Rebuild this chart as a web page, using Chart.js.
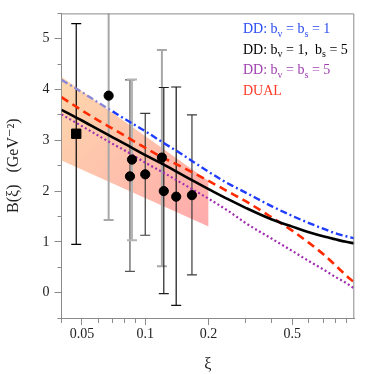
<!DOCTYPE html>
<html>
<head>
<meta charset="utf-8">
<script src="https://cdn.jsdelivr.net/npm/chart.js@4.4.1/dist/chart.umd.min.js"></script>
<style>
  html, body { margin: 0; padding: 0; background: #fff; }
  #wrap { width: 374px; height: 374px; }
</style>
</head>
<body>
<div id="wrap"><canvas id="chart"></canvas></div>
<script>
// model curves, sampled on a common xi grid
const xiGrid   = [0.04, 0.05, 0.06, 0.07, 0.08, 0.1, 0.12, 0.15, 0.2, 0.25, 0.3, 0.4, 0.5, 0.6, 0.7, 0.8, 0.9, 0.985];
const ddSame1  = [4.19, 3.95, 3.74, 3.57, 3.42, 3.18, 2.97, 2.72, 2.38, 2.14, 1.97, 1.70, 1.51, 1.37, 1.26, 1.17, 1.11, 1.07];
const ddMixed  = [3.60, 3.39, 3.21, 3.06, 2.93, 2.71, 2.54, 2.32, 2.04, 1.83, 1.67, 1.44, 1.30, 1.19, 1.11, 1.05, 1.00, 0.97];
const ddSame5  = [3.51, 3.28, 3.09, 2.93, 2.80, 2.56, 2.38, 2.15, 1.85, 1.60, 1.37, 1.06, 0.82, 0.62, 0.46, 0.31, 0.19, 0.08];
const dual     = [3.85, 3.59, 3.39, 3.23, 3.09, 2.85, 2.67, 2.47, 2.20, 1.98, 1.80, 1.48, 1.22, 0.98, 0.76, 0.54, 0.34, 0.20];

// shaded band
const bandXi     = [0.04, 0.2];
const bandTop    = [4.25, 2.2];
const bandBottom = [2.6, 1.3];

// data points with error bars
const squareXi = [0.047];
const squareB  = [3.13];
const squareLo = [0.95];
const squareHi = [5.30];

const circleXi = [0.067, 0.0846, 0.0865, 0.1, 0.12, 0.1225, 0.1403, 0.1667];
const circleB  = [3.88, 2.29, 2.62, 2.33, 2.66, 2.00, 1.89, 1.92];
const circleLo = [1.43, 0.42, 1.03, 1.13, 0.52, -0.02, -0.25, 0.35];
const circleHi = [6.33, 4.19, 4.20, 3.53, 4.78, 4.04, 4.05, 3.50];

// axis ticks
const xTicks = [0.04, 0.05, 0.06, 0.07, 0.08, 0.09, 0.1, 0.2, 0.3, 0.4, 0.5, 0.6, 0.7, 0.8, 0.9];
const xLabels = {0.05: '0.05', 0.1: '0.1', 0.2: '0.2', 0.5: '0.5'};

const squareBarColor = ['#000000'];
const circleBarColor = ['#a8a8a8', '#555555', '#b4b4b4', '#3a3a3a', '#a8a8a8', '#202020', '#101010', '#3a3a3a'];

const FONT = '"Liberation Serif", "DejaVu Serif", serif';
const AXIS_GREY = '#8a8a8a';
const BAND_TOP_INDEX = 6;

const pts = (xs, ys) => xs.map((x, i) => ({x: x, y: ys[i]}));
const isMinorY = v => Math.abs(v - Math.round(v)) > 1e-6;

const curve = (label, data, color, width, dash) => ({
  label: label,
  data: pts(xiGrid, data),
  showLine: true,
  borderColor: color,
  borderWidth: width,
  borderDash: dash,
  pointRadius: 0,
  tension: 0.4,
  cubicInterpolationMode: 'monotone',
  fill: false,
  order: 1
});

const errorBars = {
  id: 'errorBars',
  afterDatasetDraw(chart, args) {
    if (args.index !== BAND_TOP_INDEX) return;
    const {ctx, chartArea, scales: {x, y}} = chart;
    ctx.save();
    ctx.beginPath();
    ctx.rect(chartArea.left, chartArea.top, chartArea.width, chartArea.height);
    ctx.clip();
    const sets = [
      [circleXi, circleLo, circleHi, circleBarColor],
      [squareXi, squareLo, squareHi, squareBarColor]
    ];
    sets.forEach(([xs, lo, hi, col]) => {
      xs.forEach((xv, i) => {
        const px = x.getPixelForValue(xv);
        const p1 = y.getPixelForValue(lo[i]);
        const p2 = y.getPixelForValue(hi[i]);
        ctx.strokeStyle = col[i];
        ctx.lineWidth = col[i] === '#a8a8a8' || col[i] === '#b4b4b4' ? 2 : 1.2;
        ctx.beginPath();
        ctx.moveTo(px, p1); ctx.lineTo(px, p2);
        ctx.moveTo(px - 5, p1); ctx.lineTo(px + 5, p1);
        ctx.moveTo(px - 5, p2); ctx.lineTo(px + 5, p2);
        ctx.stroke();
      });
    });
    ctx.restore();
  }
};

function drawRich(ctx, text, x, y) {
  text.split(/(_\w)/).forEach(part => {
    if (!part) return;
    if (part[0] === '_') {
      ctx.font = '10px ' + FONT;
      ctx.fillText(part[1], x, y + 3.5);
      x += ctx.measureText(part[1]).width;
    } else {
      ctx.font = '14px ' + FONT;
      ctx.fillText(part, x, y);
      x += ctx.measureText(part).width;
    }
  });
}

const textLegend = {
  id: 'textLegend',
  afterDraw(chart) {
    const {ctx} = chart;
    ctx.save();
    ctx.textBaseline = 'alphabetic';
    ctx.textAlign = 'left';
    [2, 3, 4, 5].forEach((di, row) => {
      const ds = chart.data.datasets[di];
      ctx.fillStyle = ds.legendColor;
      drawRich(ctx, ds.label, 243, 33 + row * 20.7);
    });
    ctx.restore();
  }
};

const frame = {
  id: 'frame',
  afterDraw(chart) {
    const {ctx, chartArea: a} = chart;
    ctx.save();
    ctx.strokeStyle = AXIS_GREY;
    ctx.lineWidth = 1;
    ctx.beginPath();
    ctx.moveTo(a.left, a.top + 0.5);
    ctx.lineTo(a.right - 0.5, a.top + 0.5);
    ctx.lineTo(a.right - 0.5, a.bottom);
    ctx.stroke();
    ctx.restore();
  }
};

function bandFill(context) {
  const chart = context.chart;
  const {chartArea, scales} = chart;
  if (!chartArea || !scales.x) return 'rgba(252,190,160,0.8)';
  const g = chart.ctx.createLinearGradient(
    scales.x.getPixelForValue(bandXi[0]), scales.y.getPixelForValue(bandTop[0]),
    scales.x.getPixelForValue(bandXi[1]), scales.y.getPixelForValue(bandBottom[1]));
  g.addColorStop(0, 'rgb(253,216,172)');
  g.addColorStop(1, 'rgb(255,170,172)');
  return g;
}

// blue curve looks washed out where it runs inside the band
const ddSame1Set = curve('DD: b_v = b_s = 1', ddSame1, '#1f3cff', 2.4, [7, 3, 2, 3]);
ddSame1Set.segment = {
  borderColor: c => c.p1.parsed.x <= 0.0701 ? '#8c88d8' : undefined
};
ddSame1Set.legendColor = '#2a4cf0';

new Chart(document.getElementById('chart'), {
  type: 'scatter',
  data: {
    datasets: [
      {
        label: 'data',
        data: pts(circleXi, circleB),
        pointStyle: 'circle',
        pointRadius: 4.6,
        pointBackgroundColor: '#000',
        pointBorderColor: '#000',
        order: 0
      },
      {
        label: 'square',
        data: pts(squareXi, squareB),
        pointStyle: 'rect',
        pointRadius: 6.6,
        pointBackgroundColor: '#000',
        pointBorderColor: '#000',
        order: 0
      },
      ddSame1Set,
      Object.assign(curve('DD: b_v = 1,  b_s = 5', ddMixed, '#000000', 2.6, []), {legendColor: '#000000'}),
      Object.assign(curve('DD: b_v = b_s = 5', ddSame5, '#a02cb0', 2.2, [2, 2.5]), {legendColor: '#a040b0'}),
      Object.assign(curve('DUAL', dual, '#ff2a00', 2.6, [8, 5]), {legendColor: '#ff3a28'}),
      {
        label: 'band top',
        data: pts(bandXi, bandTop),
        showLine: true,
        borderWidth: 0,
        borderColor: 'rgba(0,0,0,0)',
        pointRadius: 0,
        tension: 0,
        backgroundColor: bandFill,
        fill: '+1',
        order: 5
      },
      {
        label: 'band bottom',
        data: pts(bandXi, bandBottom),
        showLine: true,
        borderWidth: 0,
        borderColor: 'rgba(0,0,0,0)',
        pointRadius: 0,
        tension: 0,
        fill: false,
        order: 5
      }
    ]
  },
  options: {
    responsive: true,
    maintainAspectRatio: false,
    animation: false,
    events: [],
    layout: { padding: { top: 11, right: 19.7, left: 0, bottom: 0 } },
    plugins: {
      legend: { display: false },
      tooltip: { enabled: false }
    },
    scales: {
      x: {
        type: 'logarithmic',
        min: 0.04,
        max: 0.985,
        afterBuildTicks: scale => { scale.ticks = xTicks.map(v => ({value: v})); },
        afterFit: scale => { scale.height = 56; },
        border: { color: AXIS_GREY, width: 1 },
        grid: {
          drawOnChartArea: false,
          drawTicks: true,
          tickLength: 7,
          tickColor: AXIS_GREY,
          tickBorderDash: c => (c.tick && xLabels[c.tick.value] === undefined) ? [4, 20] : []
        },
        ticks: {
          autoSkip: false,
          maxRotation: 0,
          padding: 1,
          color: '#222',
          font: { family: FONT, size: 14 },
          callback: v => xLabels[v] || ''
        },
        title: {
          display: true,
          text: 'ξ',
          color: '#222',
          font: { family: FONT, size: 16 },
          padding: { top: 3, bottom: 0 }
        }
      },
      y: {
        min: -0.5,
        max: 5.5,
        afterFit: scale => { scale.width = 61.5; },
        border: { color: AXIS_GREY, width: 1 },
        grid: {
          drawOnChartArea: false,
          drawTicks: true,
          tickLength: 7,
          tickColor: AXIS_GREY,
          tickBorderDash: c => (c.tick && isMinorY(c.tick.value)) ? [0, 3, 4, 20] : []
        },
        ticks: {
          stepSize: 0.5,
          padding: 5,
          color: '#222',
          font: { family: FONT, size: 14 },
          callback: v => isMinorY(v) ? '' : String(Math.round(v))
        },
        title: {
          display: true,
          text: 'B(ξ)   (GeV⁻²)',
          color: '#222',
          font: { family: FONT, size: 16 },
          padding: { top: 4, bottom: 0 }
        }
      }
    }
  },
  plugins: [errorBars, textLegend, frame]
});
</script>
</body>
</html>
